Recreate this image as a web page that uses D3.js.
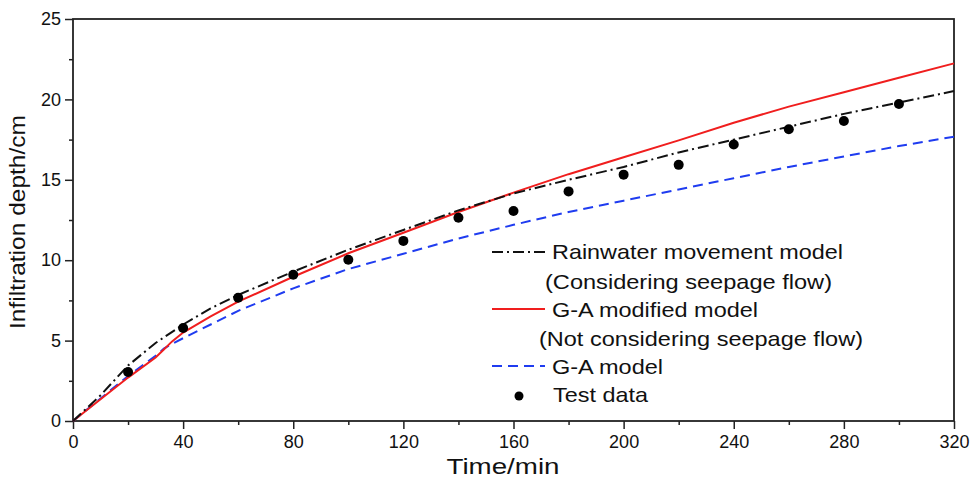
<!DOCTYPE html>
<html>
<head>
<meta charset="utf-8">
<script src="https://cdn.jsdelivr.net/npm/d3@7"></script>
<style>
  body { margin: 0; background: #fff; }
  svg { display: block; font-family: "Liberation Sans", Arial, sans-serif; }
</style>
</head>
<body>
<div class="chartDiv"></div>
<script>

// ---------------- data ----------------
// test data (points)
let testTime  = [20, 40, 60, 80, 100, 120, 140, 160, 180, 200, 220, 240, 260, 280, 300];
let testDepth = [3.05, 5.78, 7.67, 9.1, 10.03, 11.2, 12.64, 13.06, 14.28, 15.32, 15.93, 17.2, 18.14, 18.66, 19.71];

// rainwater movement model (considering seepage flow)
let rainTime  = [0, 10, 20, 30, 40, 50, 60, 80, 100, 120, 140, 160, 180, 200, 220, 240, 260, 280, 300, 320];
let rainDepth = [0, 1.6, 3.45, 4.85, 6.0, 7.0, 7.84, 9.29, 10.65, 11.88, 13.1, 14.15, 15.0, 15.8, 16.7, 17.5, 18.3, 19.1, 19.8, 20.52];

// G-A modified model (not considering seepage flow)
let modTime  = [0, 10, 20, 30, 33, 36, 40, 50, 60, 80, 100, 120, 140, 160, 180, 200, 220, 240, 260, 280, 300, 320];
let modDepth = [0, 1.35, 2.7, 3.95, 4.45, 4.95, 5.5, 6.5, 7.42, 8.97, 10.43, 11.71, 13.0, 14.2, 15.35, 16.4, 17.45, 18.55, 19.55, 20.45, 21.35, 22.24];

// G-A model
let gaTime  = [0, 10, 20, 30, 33, 36, 40, 50, 60, 80, 100, 120, 140, 160, 180, 200, 220, 240, 260, 280, 300, 320];
let gaDepth = [0, 1.4, 2.8, 4.05, 4.5, 4.8, 5.15, 6.0, 6.85, 8.25, 9.45, 10.4, 11.35, 12.2, 13.0, 13.7, 14.4, 15.1, 15.8, 16.45, 17.1, 17.68];

let xTicks = [0, 40, 80, 120, 160, 200, 240, 280, 320];
let yTicks = [0, 5, 10, 15, 20, 25];

// ---------------- setup ----------------
let margin = {top: 19, right: 21, bottom: 58, left: 73},
    width = 975 - margin.left - margin.right,
    height = 479 - margin.top - margin.bottom;

let x = d3.scaleLinear().domain([0, 320]).range([0, width]);
let y = d3.scaleLinear().domain([0, 25]).range([height, 0]);

let svg = d3.select(".chartDiv").append("svg")
    .attr("width", 975)
    .attr("height", 479)
.append("g")
    .attr("transform", "translate(" + margin.left + "," + margin.top + ")");

// minor ticks
svg.append("g")
    .attr("transform", "translate(0," + height + ")")
    .call(d3.axisBottom(x).tickValues(d3.range(20, 320, 40)).tickSize(4).tickSizeOuter(0).tickFormat(""))
    .call(g => g.select(".domain").remove());
svg.append("g")
    .call(d3.axisLeft(y).tickValues(d3.range(2.5, 25, 5)).tickSize(4).tickSizeOuter(0).tickFormat(""))
    .call(g => g.select(".domain").remove());

// major ticks + labels
let xAxis = svg.append("g")
    .attr("transform", "translate(0," + height + ")")
    .call(d3.axisBottom(x).tickValues(xTicks).tickSize(8).tickSizeOuter(0).tickPadding(6).tickFormat(d3.format("d")));
xAxis.select(".domain").remove();
xAxis.selectAll("text").style("font-size", "18px").attr("fill", "#111");

let yAxis = svg.append("g")
    .call(d3.axisLeft(y).tickValues(yTicks).tickSize(8).tickSizeOuter(0).tickPadding(4).tickFormat(d3.format("d")));
yAxis.select(".domain").remove();
yAxis.selectAll("text").style("font-size", "18px").attr("fill", "#111");

svg.selectAll(".tick line").attr("stroke", "#222").attr("stroke-width", 1.5);

// frame
svg.append("rect")
    .attr("width", width)
    .attr("height", height)
    .attr("fill", "none")
    .attr("stroke", "#222")
    .attr("stroke-width", 1.8);

// axis titles
svg.append("text")
    .attr("x", 503 - margin.left)
    .attr("y", height + 53)
    .attr("text-anchor", "middle")
    .style("font-size", "22px")
    .attr("textLength", 113)
    .attr("lengthAdjust", "spacingAndGlyphs")
    .attr("fill", "#111")
    .text("Time/min");

svg.append("text")
    .attr("transform", "translate(" + (-48) + "," + (222 - margin.top) + ") rotate(-90)")
    .attr("text-anchor", "middle")
    .style("font-size", "22px")
    .attr("textLength", 214)
    .attr("lengthAdjust", "spacingAndGlyphs")
    .attr("fill", "#111")
    .text("Infiltration depth/cm");

// curves
let line = d3.line().x(d => x(d[0])).y(d => y(d[1]));

svg.append("path")
    .datum(d3.zip(gaTime, gaDepth))
    .attr("d", line)
    .attr("fill", "none")
    .attr("stroke", "#1f3cf0")
    .attr("stroke-width", 2)
    .attr("stroke-dasharray", "10,6");

svg.append("path")
    .datum(d3.zip(modTime, modDepth))
    .attr("d", line)
    .attr("fill", "none")
    .attr("stroke", "#f01e1e")
    .attr("stroke-width", 2);

svg.append("path")
    .datum(d3.zip(rainTime, rainDepth))
    .attr("d", line)
    .attr("fill", "none")
    .attr("stroke", "#111")
    .attr("stroke-width", 2)
    .attr("stroke-dasharray", "11,4,2,4");

svg.selectAll(".dot")
    .data(d3.zip(testTime, testDepth))
    .join("circle")
    .attr("class", "dot")
    .attr("cx", d => x(d[0]))
    .attr("cy", d => y(d[1]))
    .attr("r", 5)
    .attr("fill", "#000");

// legend
let legend = svg.append("g").attr("transform", "translate(" + (-margin.left) + "," + (-margin.top) + ")");
let legendText = [
    {t: "Rainwater movement model", x: 552, y: 252, w: 291},
    {t: "(Considering seepage flow)", x: 545, y: 282, w: 287},
    {t: "G-A modified model", x: 552, y: 310, w: 206},
    {t: "(Not considering seepage flow)", x: 539, y: 339, w: 324},
    {t: "G-A model", x: 552, y: 367, w: 111},
    {t: "Test data", x: 553, y: 395, w: 95}
];
legend.selectAll("text")
    .data(legendText)
    .join("text")
    .attr("x", d => d.x)
    .attr("y", d => d.y)
    .attr("dy", "0.35em")
    .attr("textLength", d => d.w)
    .attr("lengthAdjust", "spacingAndGlyphs")
    .style("font-size", "21px")
    .attr("fill", "#111")
    .text(d => d.t);

legend.append("line").attr("x1", 492).attr("x2", 545).attr("y1", 252).attr("y2", 252)
    .attr("stroke", "#111").attr("stroke-width", 2).attr("stroke-dasharray", "11,4,2,4");
legend.append("line").attr("x1", 492).attr("x2", 545).attr("y1", 309).attr("y2", 309)
    .attr("stroke", "#f01e1e").attr("stroke-width", 2);
legend.append("line").attr("x1", 492).attr("x2", 545).attr("y1", 366).attr("y2", 366)
    .attr("stroke", "#1f3cf0").attr("stroke-width", 2).attr("stroke-dasharray", "10,6");
legend.append("circle").attr("cx", 519).attr("cy", 396).attr("r", 4.5).attr("fill", "#000");

</script>
</body>
</html>
